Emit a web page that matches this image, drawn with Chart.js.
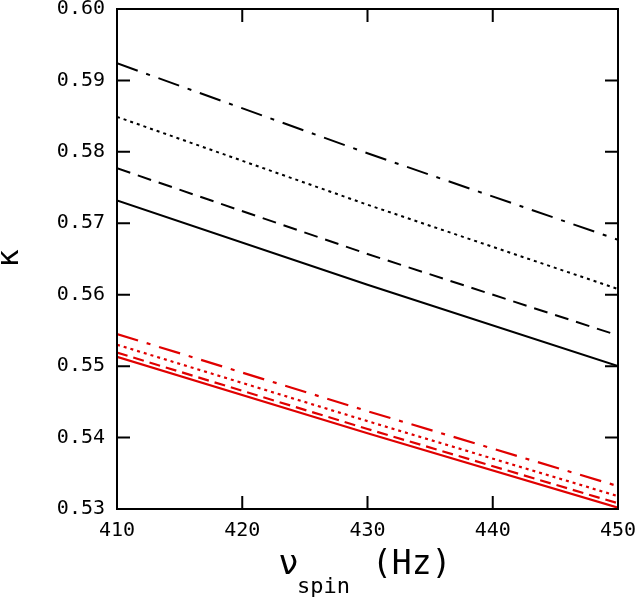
<!DOCTYPE html>
<html>
<head>
<meta charset="utf-8">
<script src="https://cdn.jsdelivr.net/npm/chart.js@4"></script>
<style>
  html, body { margin: 0; padding: 0; background: #fff; }
  #wrap { width: 635px; height: 602px; }
</style>
</head>
<body>
<div id="wrap"><canvas id="chartKappa"></canvas></div>
<script>
// frequency in Hz
let spin = [410, 430, 450];

// black curves
let blackSolid = [0.5732, 0.5614, 0.5500];
let blackDashed = [0.5777, 0.5657, 0.5543];
let blackDotted = [0.5849, 0.5726, 0.5608];
let blackDashDot = [0.5924, 0.5798, 0.5677];

// red curves
let redSolid = [0.5513, 0.5406, 0.5302];
let redDashed = [0.5519, 0.5412, 0.5308];
let redDotted = [0.5530, 0.5423, 0.5318];
let redDashDot = [0.5545, 0.5437, 0.5332];

let xTicks = [410, 420, 430, 440, 450];
let yTicks = [0.53, 0.54, 0.55, 0.56, 0.57, 0.58, 0.59, 0.60];

const mono = '"DejaVu Sans Mono", monospace';

function toPoints(values) {
    return values.map(function(v, i) {
        return { x: spin[i], y: v };
    });
}

function makeSet(values, color, dash, width) {
    return {
        data: toPoints(values),
        borderColor: color,
        borderWidth: width,
        borderDash: dash,
        pointRadius: 0,
        tension: 0,
        fill: false
    };
}

// frame with inward ticks on every side, plus axis titles
const framePlugin = {
    id: 'frame',
    afterDraw: function(chart) {
        const c = chart.ctx;
        const a = chart.chartArea;
        const xs = chart.scales.x;
        const ys = chart.scales.y;
        const len = 13;
        c.save();
        c.strokeStyle = '#000';
        c.lineWidth = 2;
        c.strokeRect(a.left, a.top, a.right - a.left, a.bottom - a.top);
        c.beginPath();
        xTicks.forEach(function(t) {
            let px = xs.getPixelForValue(t);
            c.moveTo(px, a.bottom); c.lineTo(px, a.bottom - len);
            c.moveTo(px, a.top); c.lineTo(px, a.top + len);
        });
        yTicks.forEach(function(t) {
            let py = ys.getPixelForValue(t);
            c.moveTo(a.left, py); c.lineTo(a.left + len, py);
            c.moveTo(a.right, py); c.lineTo(a.right - len, py);
        });
        c.stroke();

        c.fillStyle = '#000';
        c.textBaseline = 'alphabetic';
        c.textAlign = 'left';
        c.font = '34px "DejaVu Sans"';
        c.fillText('\u03BD', 279, 574);
        c.font = '22px ' + mono;
        c.fillText('spin', 297, 593);
        c.font = '33px ' + mono;
        c.fillText('(Hz)', 372, 574);

        c.translate(18, 258);
        c.rotate(-Math.PI / 2);
        c.textAlign = 'center';
        c.font = '30px "DejaVu Sans"';
        c.fillText('\u03BA', 0, 0);
        c.restore();
    }
};

let ctx = document.getElementById('chartKappa').getContext('2d');
let myChart = new Chart(ctx, {
    type: 'line',
    data: {
        datasets: [
            makeSet(blackSolid, '#000', [], 2),
            makeSet(blackDashed, '#000', [14, 8], 2),
            makeSet(blackDotted, '#000', [3, 4], 2),
            makeSet(blackDashDot, '#000', [22, 9, 4, 9], 2),
            makeSet(redSolid, '#e00000', [], 2.2),
            makeSet(redDashed, '#e00000', [11, 6], 2.2),
            makeSet(redDotted, '#e00000', [3, 4], 2.2),
            makeSet(redDashDot, '#e00000', [22, 9, 4, 9], 2.2)
        ]
    },
    options: {
        responsive: true,
        maintainAspectRatio: false,
        animation: false,
        layout: { padding: { top: 9, right: 17, left: 0, bottom: 0 } },
        plugins: {
            legend: { display: false },
            tooltip: { enabled: false }
        },
        scales: {
            x: {
                type: 'linear',
                min: 410,
                max: 450,
                afterFit: function(s) {
                    s.height = 93;
                    s.paddingLeft = 0;
                    s.paddingRight = 0;
                },
                afterBuildTicks: function(s) {
                    s.ticks = xTicks.map(function(v) { return { value: v }; });
                },
                grid: { display: false, drawTicks: false },
                border: { display: false },
                ticks: {
                    autoSkip: false,
                    maxRotation: 0,
                    padding: 10,
                    color: '#000',
                    font: { family: mono, size: 20 }
                }
            },
            y: {
                min: 0.53,
                max: 0.60,
                afterFit: function(s) {
                    s.width = 117;
                    s.paddingTop = 0;
                    s.paddingBottom = 0;
                },
                afterBuildTicks: function(s) {
                    s.ticks = yTicks.map(function(v) { return { value: v }; });
                },
                grid: { display: false, drawTicks: false },
                border: { display: false },
                ticks: {
                    padding: 12,
                    color: '#000',
                    font: { family: mono, size: 20 },
                    callback: function(v) { return v.toFixed(2); }
                }
            }
        }
    },
    plugins: [framePlugin]
});
</script>
</body>
</html>
